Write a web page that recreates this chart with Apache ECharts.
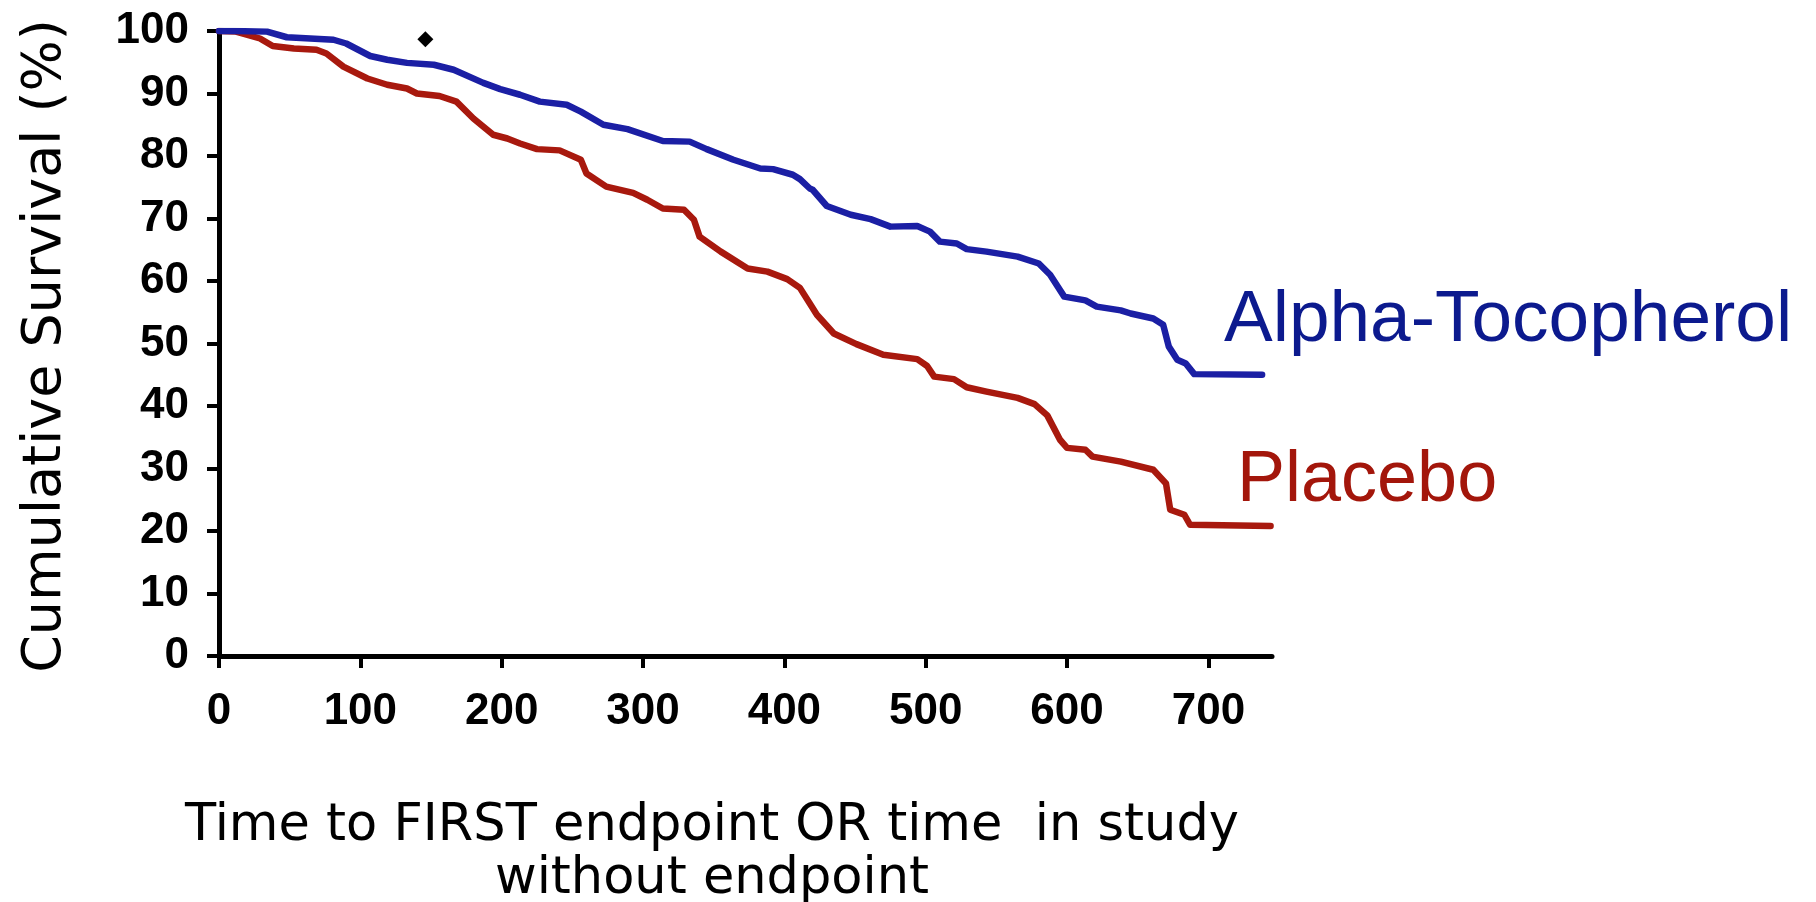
<!DOCTYPE html>
<html>
<head>
<meta charset="utf-8">
<script src="https://cdn.jsdelivr.net/npm/echarts@6/dist/echarts.min.js"></script>
<style>
  html, body { margin: 0; padding: 0; background: #ffffff; }
  #chart { width: 1816px; height: 902px; }
</style>
</head>
<body>
<div id="chart"></div>
<script>
// Kaplan-Meier style survival curves: days in study vs. cumulative survival (%)
const alphaDays = [0, 10, 34, 48, 81, 90, 107, 119, 133, 152, 166, 187, 199, 213, 227, 246, 256, 272, 289, 314, 333, 345, 364, 383, 392, 406, 411, 418, 420, 430, 447, 461, 475, 494, 503, 510, 522, 529, 543, 565, 580, 588, 598, 613, 621, 638, 645, 661, 668, 672, 678, 684, 690, 738];
const alphaSurvival = [100, 100, 99.9, 99.0, 98.6, 98.0, 96.0, 95.4, 94.9, 94.6, 93.8, 91.7, 90.7, 89.8, 88.7, 88.2, 87.1, 85.0, 84.3, 82.4, 82.3, 81.1, 79.4, 78.0, 77.9, 77.0, 76.3, 74.8, 74.6, 72.0, 70.6, 69.9, 68.7, 68.8, 67.9, 66.3, 66.0, 65.1, 64.7, 63.9, 62.8, 61.0, 57.5, 56.9, 55.9, 55.3, 54.8, 54.0, 53.0, 49.5, 47.4, 46.8, 45.1, 45.0];

const placeboDays = [0, 12, 29, 38, 53, 69, 76, 88, 105, 119, 133, 140, 156, 168, 180, 194, 204, 213, 225, 241, 256, 260, 274, 293, 303, 314, 329, 336, 340, 355, 374, 388, 402, 411, 418, 423, 435, 451, 470, 494, 501, 506, 520, 529, 543, 565, 577, 586, 595, 600, 613, 618, 638, 661, 670, 673, 683, 687, 744];
const placeboSurvival = [100, 99.9, 98.8, 97.6, 97.2, 97.0, 96.4, 94.3, 92.4, 91.4, 90.8, 90.0, 89.6, 88.7, 86.0, 83.4, 82.8, 82.0, 81.1, 80.9, 79.4, 77.2, 75.1, 74.1, 73.0, 71.6, 71.4, 69.8, 67.1, 64.7, 62.0, 61.5, 60.3, 58.9, 56.4, 54.6, 51.6, 49.9, 48.2, 47.5, 46.4, 44.7, 44.3, 43.0, 42.3, 41.3, 40.3, 38.5, 34.6, 33.3, 33.0, 31.9, 31.1, 29.8, 27.6, 23.4, 22.6, 21.0, 20.8];

// stray dot printed above the curves
const dotPoint = [146, 98.7];

const xTicks = [0, 100, 200, 300, 400, 500, 600, 700];
const yTicks = [0, 10, 20, 30, 40, 50, 60, 70, 80, 90, 100];

const seriesNames = ['Alpha-Tocopherol', 'Placebo'];
const yTitle = 'Cumulative Survival (%)';
const xTitleLines = ['Time to FIRST endpoint OR time  in study', 'without endpoint'];

const pair = (xs, ys) => xs.map((x, i) => [x, ys[i]]);

const chart = echarts.init(document.getElementById('chart'), null, { renderer: 'canvas' });

const tickFont = { fontFamily: 'Liberation Sans, Arial, sans-serif', fontWeight: 'bold', fontSize: 44, color: '#000' };
const titleFont = 'DejaVu Sans, Verdana, sans-serif';

chart.setOption({
  backgroundColor: '#ffffff',
  animation: false,
  grid: { left: 219, right: 544, top: 31, bottom: 246, containLabel: false },
  xAxis: {
    type: 'value',
    min: 0,
    max: 745,
    interval: 100,
    splitLine: { show: false },
    axisLine: { show: true, lineStyle: { color: '#000', width: 5 } },
    axisTick: { show: true, length: 12, inside: false, customValues: xTicks, lineStyle: { color: '#000', width: 4 } },
    axisLabel: Object.assign({ margin: 34, customValues: xTicks }, tickFont)
  },
  yAxis: {
    type: 'value',
    min: 0,
    max: 100,
    interval: 10,
    splitLine: { show: false },
    axisLine: { show: true, lineStyle: { color: '#000', width: 5 } },
    axisTick: { show: true, length: 12, inside: false, customValues: yTicks, lineStyle: { color: '#000', width: 4 } },
    axisLabel: Object.assign({ margin: 30, customValues: yTicks }, tickFont)
  },
  series: [
    {
      name: seriesNames[0],
      type: 'line',
      data: pair(alphaDays, alphaSurvival),
      showSymbol: false,
      symbol: 'none',
      z: 3,
      lineStyle: { color: '#1b1fa4', width: 6.5, join: 'round', cap: 'round' }
    },
    {
      name: seriesNames[1],
      type: 'line',
      data: pair(placeboDays, placeboSurvival),
      showSymbol: false,
      symbol: 'none',
      z: 2,
      lineStyle: { color: '#a8190e', width: 6.5, join: 'round', cap: 'round' }
    },
    {
      type: 'scatter',
      data: [dotPoint],
      symbol: 'diamond',
      symbolSize: 16,
      itemStyle: { color: '#000', opacity: 1 },
      z: 4
    }
  ],
  graphic: [
    {
      type: 'text',
      x: 46, y: 346,
      rotation: Math.PI / 2,
      style: {
        text: yTitle,
        fontFamily: titleFont,
        fontSize: 54,
        fill: '#000',
        textAlign: 'center',
        textVerticalAlign: 'middle'
      }
    },
    {
      type: 'text',
      x: 712, y: 827,
      style: {
        text: xTitleLines[0],
        fontFamily: titleFont,
        fontSize: 51,
        fill: '#000',
        textAlign: 'center',
        textVerticalAlign: 'middle'
      }
    },
    {
      type: 'text',
      x: 712, y: 880,
      style: {
        text: xTitleLines[1],
        fontFamily: titleFont,
        fontSize: 51,
        fill: '#000',
        textAlign: 'center',
        textVerticalAlign: 'middle'
      }
    },
    {
      type: 'text',
      x: 1224, y: 321,
      style: {
        text: seriesNames[0],
        fontFamily: 'Liberation Sans, Arial, sans-serif',
        fontSize: 73,
        fill: '#0c1a8e',
        textAlign: 'left',
        textVerticalAlign: 'middle'
      }
    },
    {
      type: 'text',
      x: 1237, y: 481,
      style: {
        text: seriesNames[1],
        fontFamily: 'Liberation Sans, Arial, sans-serif',
        fontSize: 72,
        fill: '#a3160b',
        textAlign: 'left',
        textVerticalAlign: 'middle'
      }
    }
  ]
});
</script>
</body>
</html>
